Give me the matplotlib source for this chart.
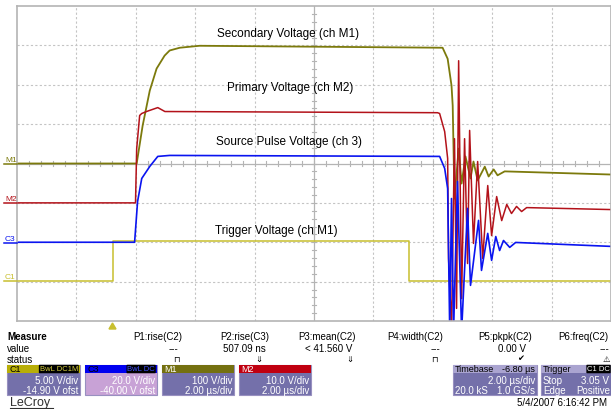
import matplotlib
matplotlib.use("Agg")
import matplotlib.pyplot as plt
from matplotlib.patches import Rectangle, Polygon

plt.rcParams['font.family'] = ['Liberation Sans', 'DejaVu Sans']

W, H = 611, 410

# time axis (us): 2 us/div, trigger at 1.6 div from the left
t_left, t_div = -3.2, 2.0

# channel settings: volts per div and trace position (div)
chans = {
    'C1': dict(scale=5.0, pos=-14.90 / 5.0, color='#c8bf2e'),
    'C3': dict(scale=20.0, pos=-40.0 / 20.0, color='#0a14f0'),
    'M1': dict(scale=100.0, pos=0.0, color='#7c7a0c'),
    'M2': dict(scale=10.0, pos=-1.0, color='#b3121a'),
}

# trigger voltage C1 (V)
c1_t = [-3.2, 0.02, 0.02, 9.99, 9.99, 16.8]
c1_v = [0.0, 0.0, 5.0, 5.0, 0.0, 0.0]

# source pulse voltage C3 (V)
c3_t = [-3.2, 0.76, 0.86, 1.00, 1.27, 1.54, 1.94, 11.03, 11.20, 11.30, 11.37,
        11.43, 11.50, 11.63, 11.77, 11.97, 12.07, 12.17, 12.34, 12.44, 12.65,
        12.78, 12.92, 13.05, 13.18, 13.39, 13.59, 16.8]
c3_v = [0.0, 0.0, 20.7, 32.4, 38.5, 43.6, 44.1, 43.6, 37.5, 27.3, -45.0,
        22.2, -45.0, 30.9, -45.0, 17.2, -21.9, -9.7, 11.1, -14.3, 4.5,
        -9.2, 2.9, -4.2, 0.9, -2.6, -0.1, -2.1]

# primary voltage M2 (V)
m2_t = [-3.2, 0.79, 0.83, 0.93, 1.00, 1.16, 1.54, 1.78, 10.96, 11.03, 11.20,
        11.30, 11.33, 11.43, 11.53, 11.60, 11.67, 11.77, 11.87, 11.97, 12.04,
        12.17, 12.31, 12.48, 12.65, 12.78, 12.95, 13.12, 13.29, 13.45, 13.62,
        13.79, 13.96, 16.8]
m2_v = [0.0, 0.0, 13.8, 22.2, 22.7, 23.2, 24.2, 23.2, 22.9, 22.7, 18.1,
        11.3, -14.1, -32.0, 16.3, -26.8, 36.1, -24.3, 16.3, -15.4, 18.4,
        -10.3, 10.5, -14.1, 4.4, -8.3, 1.6, -4.5, -0.4, -2.7, -0.9,
        -2.2, -1.2, -1.7]

# secondary voltage M1 (V)
m1_t = [-3.2, 0.83, 1.03, 1.27, 1.50, 1.77, 1.94, 2.28, 2.95, 11.13, 11.30,
        11.43, 11.47, 11.53, 11.67, 11.77, 11.90, 12.07, 12.17, 12.31, 12.55,
        12.68, 12.85, 12.98, 13.22, 16.8]
m1_v = [0, 0, 96, 185, 241, 274, 287, 294, 299, 294, 266,
        198, 147, -89, 38, -51, 18, -38, 5, -43, -8,
        -33, -15, -30, -20, -28]

labels = [('Secondary Voltage (ch M1)', 217, 34),
          ('Primary Voltage (ch M2)', 227, 88),
          ('Source Pulse Voltage (ch 3)', 216, 142),
          ('Trigger Voltage (ch M1)', 215, 231)]

meas_names = ['P1:rise(C2)', 'P2:rise(C3)', 'P3:mean(C2)', 'P4:width(C2)',
              'P5:pkpk(C2)', 'P6:freq(C2)']
meas_values = ['---', '507.09 ns', '< 41.560 V', '---', '0.00 V', '---']
meas_status = ['\u2293', '\u21d3', '\u21d3', '\u2293', '\u2714', '\u26a0']


def fx(x):
    return x / W


def fy(y):
    return 1 - y / H


fig = plt.figure(figsize=(W / 100, H / 100), dpi=100)
fig.patch.set_facecolor('white')

ax = fig.add_axes([fx(17), fy(322), 594 / W, 315 / H])
ax.set_xlim(t_left, t_left + 10 * t_div)
ax.set_ylim(-4, 4)
ax.set_xticks([])
ax.set_yticks([])
for s in ax.spines.values():
    s.set_color('#b4b4b4')
    s.set_linewidth(1.2)

# grid
for i in range(1, 10):
    if i != 5:
        ax.axvline(t_left + i * t_div, color='#c4c4c4', lw=0.8, ls=(0, (2, 2)))
for j in range(-3, 4):
    if j != 0:
        ax.axhline(j, color='#c4c4c4', lw=0.8, ls=(0, (2, 2)))
tc = t_left + 5 * t_div
ax.axvline(tc, color='#b4b4b4', lw=0.9)
ax.axhline(0, color='#b4b4b4', lw=0.9)
for k in range(1, 50):
    xx = t_left + k * t_div / 5
    ax.plot([xx, xx], [-0.06, 0.06], color='#b4b4b4', lw=0.8)
for k in range(1, 40):
    yy = -4 + k * 0.2
    ax.plot([tc - 0.08, tc + 0.08], [yy, yy], color='#b4b4b4', lw=0.8)


def disp(name, v):
    c = chans[name]
    return [x / c['scale'] + c['pos'] for x in v]


ax.plot(c1_t, disp('C1', c1_v), color=chans['C1']['color'], lw=1.1)
ax.plot(m1_t, disp('M1', m1_v), color=chans['M1']['color'], lw=1.3)
ax.plot(m2_t, disp('M2', m2_v), color=chans['M2']['color'], lw=1.1)
ax.plot(c3_t, disp('C3', c3_v), color=chans['C3']['color'], lw=1.2)

for txt, x, y in labels:
    fig.text(fx(x), fy(y), txt, fontsize=8.5, ha='left', va='center', color='black')

# channel tags at the left edge
for name in ['M1', 'M2', 'C3', 'C1']:
    c = chans[name]
    ypx = 165 - c['pos'] * 39.4
    fig.text(fx(5), fy(ypx - 1), name, fontsize=6, color=c['color'], ha='left', va='bottom')
    fig.add_artist(plt.Line2D([fx(4), fx(17)], [fy(ypx), fy(ypx)], color=c['color'], lw=1.1))

# trigger marker
fig.add_artist(Polygon([[fx(109), fy(330)], [fx(116), fy(330)], [fx(112.5), fy(324)]],
                       closed=True, color='#c8bf2e'))

# measure table
fig.text(fx(7), fy(337), 'Measure', fontsize=7, weight='bold', va='center')
fig.text(fx(7), fy(349), 'value', fontsize=7, va='center')
fig.text(fx(7), fy(360), 'status', fontsize=7, va='center')
col_c = [158, 245, 327, 415, 505, 583]
col_r = [178, 266, 352, 440, 526, 609]
col_s = [176, 259, 350, 434, 521, 606]
for name, val, st, cc, cr, cs in zip(meas_names, meas_values, meas_status, col_c, col_r, col_s):
    fig.text(fx(cc), fy(337), name, fontsize=7, ha='center', va='center')
    fig.text(fx(cr), fy(349), val, fontsize=7, ha='right', va='center')
    fig.text(fx(cs), fy(360), st, fontsize=6, ha='center', va='center')


def box(x0, x1, head_col, body_col, head_txt, lines, head_txt_col='black'):
    fig.add_artist(Rectangle((fx(x0), fy(396)), fx(x1 - x0), (396 - 366) / H,
                             facecolor=body_col, edgecolor='#9890c0', lw=0.8))
    fig.add_artist(Rectangle((fx(x0), fy(374)), fx(x1 - x0), 8 / H,
                             facecolor=head_col, edgecolor='none'))
    fig.text(fx(x0 + 2), fy(370), head_txt, fontsize=6.5, color=head_txt_col, va='center')
    for i, ln in enumerate(lines):
        fig.text(fx(x1 - 2), fy(381 + 10 * i), ln, fontsize=7, color='white',
                 ha='right', va='center')


body = '#7470aa'
box(7, 80, '#b8ae08', body, 'C1', ['5.00 V/div', '-14.90 V ofst'])
fig.text(fx(78), fy(370), 'BwL DC1M', fontsize=5.5, color='#d8d040', ha='right', va='center',
         bbox=dict(boxstyle='round,pad=0.1', fc='black', ec='none'))
box(85, 157, '#0000f0', '#c8a2d6', 'C3', ['20.0 V/div', '-40.00 V ofst'])
fig.text(fx(155), fy(370), 'BwL DC', fontsize=5.5, color='#4050ff', ha='right', va='center',
         bbox=dict(boxstyle='round,pad=0.1', fc='black', ec='none'))
box(162, 234, '#747010', body, 'M1', ['100 V/div', '2.00 \u00b5s/div'], 'white')
box(239, 311, '#c00010', body, 'M2', ['10.0 V/div', '2.00 \u00b5s/div'], 'white')

# timebase box
fig.add_artist(Rectangle((fx(453), fy(396)), fx(84), 30 / H, facecolor=body,
                         edgecolor='#9890c0', lw=0.8))
fig.add_artist(Rectangle((fx(453), fy(374)), fx(84), 8 / H, facecolor='#aaa4d0', edgecolor='none'))
fig.text(fx(455), fy(370), 'Timebase', fontsize=6.5, va='center')
fig.text(fx(535), fy(370), '-6.80 \u00b5s', fontsize=6.5, ha='right', va='center')
fig.text(fx(535), fy(381), '2.00 \u00b5s/div', fontsize=7, color='white', ha='right', va='center')
fig.text(fx(455), fy(391), '20.0 kS', fontsize=7, color='white', va='center')
fig.text(fx(535), fy(391), '1.0 GS/s', fontsize=7, color='white', ha='right', va='center')

# trigger box
fig.add_artist(Rectangle((fx(541), fy(396)), fx(72), 30 / H, facecolor=body,
                         edgecolor='#9890c0', lw=0.8))
fig.add_artist(Rectangle((fx(541), fy(374)), fx(72), 8 / H, facecolor='#aaa4d0', edgecolor='none'))
fig.text(fx(543), fy(370), 'Trigger', fontsize=6.5, va='center')
fig.text(fx(610), fy(370), 'C1 DC', fontsize=5.5, color='white', ha='right', va='center',
         bbox=dict(boxstyle='round,pad=0.1', fc='black', ec='none'))
fig.text(fx(543), fy(381), 'Stop', fontsize=7, color='white', va='center')
fig.text(fx(609), fy(381), '3.05 V', fontsize=7, color='white', ha='right', va='center')
fig.text(fx(543), fy(391), 'Edge', fontsize=7, color='white', va='center')
fig.text(fx(610), fy(391), 'Positive', fontsize=7, color='white', ha='right', va='center')

fig.text(fx(607), fy(403), '5/4/2007 6:16:42 PM', fontsize=7, ha='right', va='center')
fig.text(fx(10), fy(403), 'LeCroy', fontsize=9, color='#303030', va='center')
fig.add_artist(plt.Line2D([fx(10), fx(53)], [fy(409), fy(409)], color='#303030', lw=0.8))

fig.savefig('out.png', dpi=100)
